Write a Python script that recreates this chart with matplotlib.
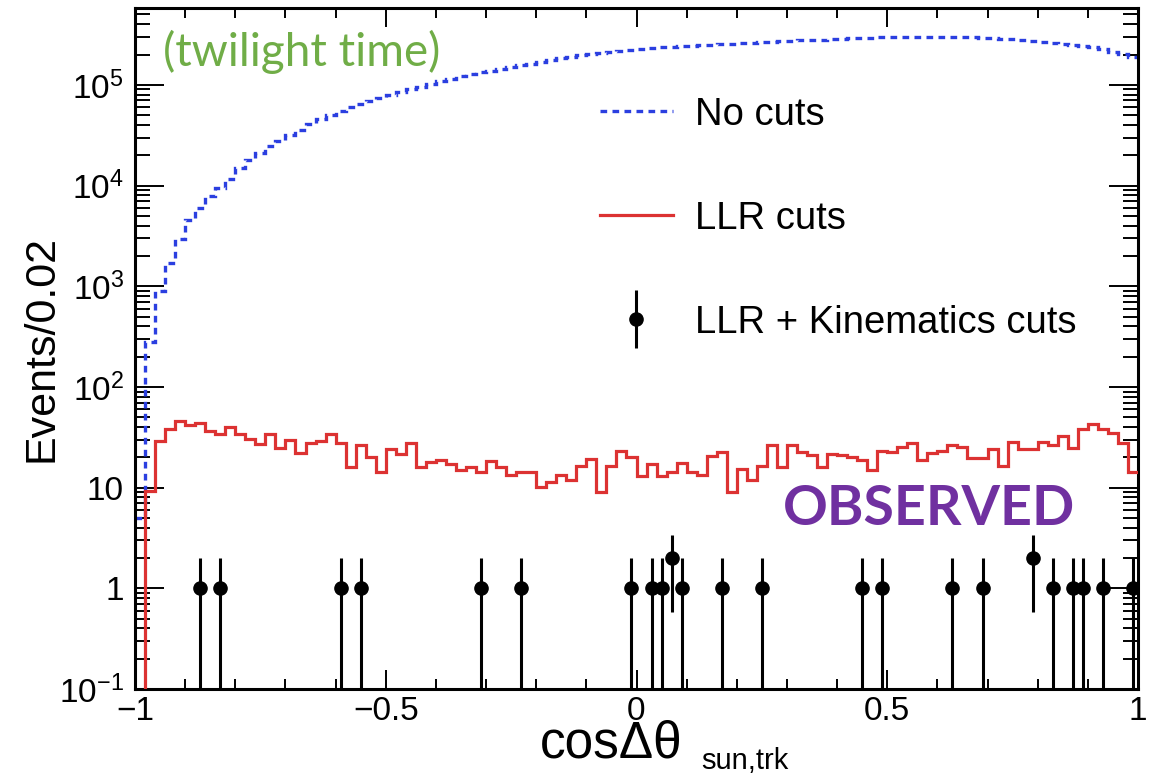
import numpy as np
import matplotlib
matplotlib.use('Agg')
import matplotlib.pyplot as plt
from matplotlib.lines import Line2D
from matplotlib.ticker import FixedLocator, FixedFormatter, LogLocator, MultipleLocator, NullFormatter
from matplotlib.container import ErrorbarContainer
from matplotlib.legend_handler import HandlerErrorbar

plt.rcParams['font.family'] = ['Liberation Sans', 'DejaVu Sans']
plt.rcParams['mathtext.fontset'] = 'custom'
plt.rcParams['mathtext.rm'] = 'Liberation Sans'
plt.rcParams['mathtext.it'] = 'Liberation Sans'

# ---------------- data ----------------
x_min, x_max, bin_width = -1.0, 1.0, 0.02

no_cuts = [5, 280, 900, 1700, 2950, 4500, 6000, 7800, 9500, 11500,
           15000, 17800, 21000, 24500, 28000, 32000, 36000, 41000, 46000, 50000,
           55000, 60000, 65000, 69000, 74000, 79000, 85000, 91000, 96000, 102000,
           110000, 115000, 123000, 129000, 135000, 138000, 145000, 151000, 158000, 162000,
           170000, 178000, 186000, 191000, 200000, 204000, 209000, 214000, 219000, 224000,
           229000, 234000, 237000, 240000, 243000, 245000, 248000, 251000, 254000, 257000,
           260000, 263000, 266000, 269000, 272000, 275000, 279000, 282000, 282000, 285000,
           288000, 292000, 295000, 295000, 299000, 302000, 302000, 302000, 302000, 302000,
           302000, 302000, 302000, 299000, 295000, 292000, 288000, 285000, 282000, 275000,
           269000, 263000, 257000, 251000, 245000, 240000, 229000, 214000, 204000, 191000]

llr_cuts = [0, 9.3, 29.3, 38.4, 46.4, 41.4, 43.6, 36.3, 34.1, 39.8,
            34.1, 30.5, 27.2, 33.7, 24.6, 29.8, 21.9, 27.6, 28.9, 33.7,
            27.6, 16.2, 26.6, 20.3, 14.4, 24.3, 21.6, 27.6, 15.9, 17.9,
            18.9, 17.2, 14.8, 16.2, 14.2, 18.2, 16.2, 13.2, 14.4, 14.4,
            10.1, 11.3, 13.2, 12.0, 16.3, 19.3, 9.0, 16.3, 23.3, 20.3,
            13.0, 17.0, 12.9, 14.4, 17.5, 14.4, 13.2, 20.8, 22.4, 9.0,
            15.3, 11.9, 16.3, 26.6, 15.9, 26.6, 22.4, 21.3, 16.0, 21.6,
            21.0, 20.0, 18.9, 15.0, 23.3, 22.4, 25.2, 27.6, 18.9, 22.1,
            23.3, 26.6, 25.6, 19.7, 19.7, 24.0, 16.5, 28.2, 24.3, 24.3,
            28.2, 26.6, 32.2, 24.6, 38.0, 43.0, 38.0, 35.0, 28.0, 14.2]

obs_x = [-0.87, -0.83, -0.59, -0.55, -0.31, -0.23, -0.01, 0.03, 0.05, 0.07,
         0.09, 0.17, 0.25, 0.45, 0.49, 0.63, 0.69, 0.79, 0.83, 0.87,
         0.89, 0.93, 0.99]
obs_y = [1, 1, 1, 1, 1, 1, 1, 1, 1, 2,
         1, 1, 1, 1, 1, 1, 1, 2, 1, 1,
         1, 1, 1]

y_ticks = [0.1, 1, 10, 100, 1e3, 1e4, 1e5]
y_tick_labels = [r'$\mathdefault{10^{-1}}$', '1', '10', r'$\mathdefault{10^{2}}$',
                 r'$\mathdefault{10^{3}}$', r'$\mathdefault{10^{4}}$', r'$\mathdefault{10^{5}}$']
x_ticks = [-1, -0.5, 0, 0.5, 1]
x_tick_labels = ['\u22121', '\u22120.5', '0', '0.5', '1']
legend_labels = ['No cuts', 'LLR cuts', 'LLR + Kinematics cuts']

# ---------------- figure ----------------
W, H = 1165, 773
fig = plt.figure(figsize=(W / 100, H / 100), dpi=100)
L, R, T, B = 135, 1138, 8, 689
ax = fig.add_axes([L / W, 1 - B / H, (R - L) / W, (B - T) / H])

edges = np.linspace(x_min, x_max, int(round((x_max - x_min) / bin_width)) + 1)
blue_c = '#2b3fe0'
red_c = '#dc3232'

ax.stairs(np.asarray(no_cuts, float), edges, color=blue_c, lw=2.4,
          ls=(0, (2.0, 1.6)), baseline=None, zorder=2)
red_plot = np.where(np.asarray(llr_cuts) > 0, llr_cuts, 1e-3)
ax.stairs(red_plot, edges, color=red_c, lw=2.3, baseline=None, zorder=3)

oy = np.asarray(obs_y, float)
err = np.sqrt(oy)
lower = np.minimum(err, oy - 1e-3)
eb = ax.errorbar(obs_x, oy, yerr=[lower, err], fmt='o', color='black', ms=9.5,
                 elinewidth=2.2, capsize=0, zorder=4)

ax.set_yscale('log')
ax.set_xlim(x_min, x_max)
ax.set_ylim(0.1, 5.8e5)

ax.yaxis.set_major_locator(FixedLocator(y_ticks))
ax.yaxis.set_major_formatter(FixedFormatter(y_tick_labels))
ax.yaxis.set_minor_locator(LogLocator(base=10, subs=np.arange(2, 10), numticks=30))
ax.yaxis.set_minor_formatter(NullFormatter())
ax.xaxis.set_major_locator(FixedLocator(x_ticks))
ax.xaxis.set_major_formatter(FixedFormatter(x_tick_labels))
ax.xaxis.set_minor_locator(MultipleLocator(0.1))

ax.tick_params(which='both', direction='in', top=True, right=True, width=1.4, colors='black')
ax.tick_params(axis='x', which='major', length=14, pad=5, labelsize=24)
ax.tick_params(axis='x', which='minor', length=7)
ax.tick_params(axis='y', which='major', length=21, pad=8, labelsize=24)
ax.tick_params(axis='y', which='minor', length=11)
for s in ax.spines.values():
    s.set_linewidth(2.2)

h1 = Line2D([], [], color=blue_c, lw=2.4, ls=(0, (2.0, 1.6)))
h2 = Line2D([], [], color=red_c, lw=2.3)
ax.legend([h1, h2, eb], legend_labels, loc='upper left',
          bbox_to_anchor=(0.4636, 0.870), frameon=False, fontsize=27.5,
          handlelength=1.9, handletextpad=0.6, labelspacing=1.78,
          borderpad=0, borderaxespad=0,
          handler_map={ErrorbarContainer: HandlerErrorbar(yerr_size=0.75)})

ax.text(0.028, 0.936, '(twilight time)', color='#70AD47', fontsize=33,
        family=['Lato', 'DejaVu Sans'], va='center', ha='left', transform=ax.transAxes)
ax.text(0.646, 0.265, 'OBSERVED', color='#7030A0', fontsize=40, fontweight='bold',
        family=['Lato', 'DejaVu Sans'], va='center', ha='left', transform=ax.transAxes)

fig.text(540 / W, 1 - 757 / H, 'cos\u0394\u03b8', fontsize=37, ha='left', va='baseline')
fig.text(701 / W, 1 - 769 / H, 'sun,trk', fontsize=21, ha='left', va='baseline')
fig.text(42 / W, 1 - 348 / H, 'Events/0.02', fontsize=31, rotation=90, ha='center', va='center')

fig.savefig('out.png', dpi=100)
